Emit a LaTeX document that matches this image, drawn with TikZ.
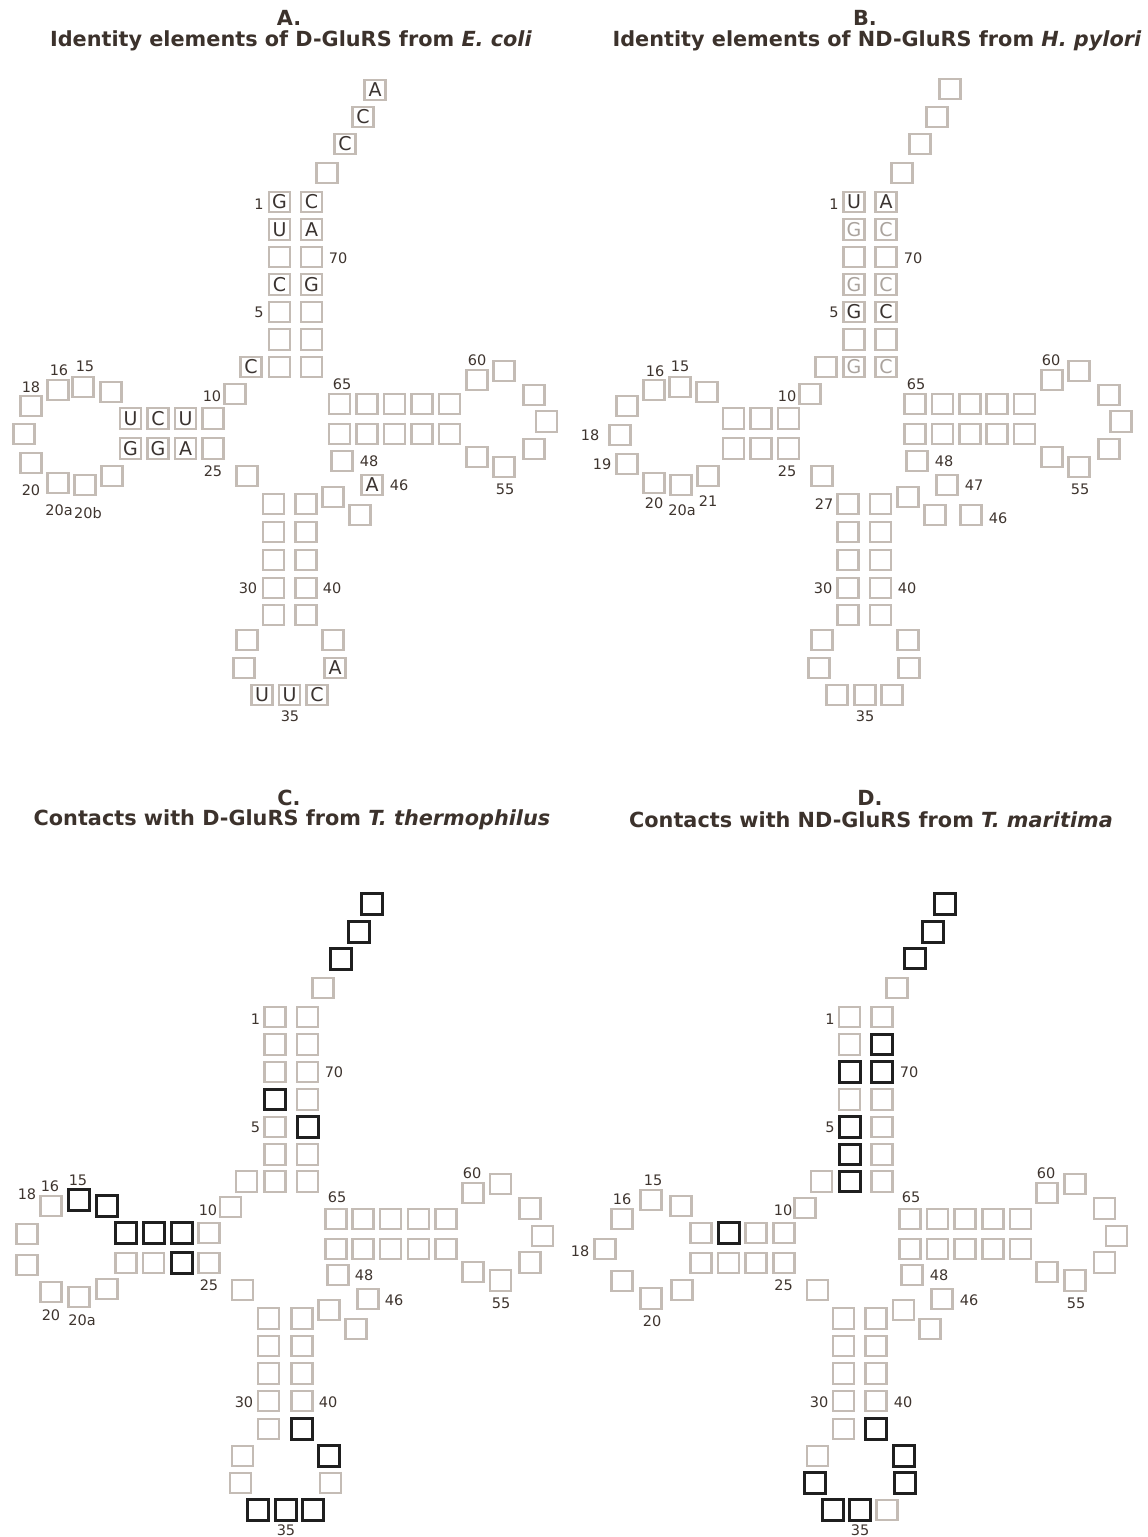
\documentclass[tikz,border=0pt]{standalone}
\usepackage{fontspec}
\setmainfont{DejaVu Sans}
\newfontfamily\tfont{DejaVu Sans}
\definecolor{boxgray}{RGB}{196,188,181}
\definecolor{letdark}{RGB}{58,51,48}
\definecolor{letlight}{RGB}{170,163,157}
\definecolor{labcol}{RGB}{62,52,46}
\definecolor{titlecol}{RGB}{60,50,44}
\tikzset{
  gb/.style={draw=boxgray, line width=2.2pt, minimum width=21pt, minimum height=20.5pt, inner sep=0pt,
    font=\fontsize{19}{19}\selectfont, text=letdark},
  kb/.style={gb, draw=black!88, line width=3pt},
  lg/.style={text=letlight},
  lab/.style={font=\fontsize{14.5}{14.5}\selectfont, text=labcol, inner sep=0pt},
  ttl/.style={font=\tfont\bfseries\fontsize{20.8}{20.8}\selectfont, text=titlecol, inner sep=0pt}
}
\begin{document}
\begin{tikzpicture}[x=1pt,y=-1pt]
\useasboundingbox (0,0) rectangle (1148,1537);

% ---------------- titles ----------------
\node[ttl] (tA1) at (289,18) {A.};
\node[ttl] (tA2) at (291,41) {Identity elements of D-GluRS from \textit{E. coli}};
\node[ttl] (tB1) at (865,18) {B.};
\node[ttl] (tB2) at (877,41) {Identity elements of ND-GluRS from \textit{H. pylori}};
\node[ttl] (tC1) at (289,798) {C.};
\node[ttl] (tC2) at (292,820) {Contacts with D-GluRS from \textit{T. thermophilus}};
\node[ttl] (tD1) at (870,798) {D.};
\node[ttl] (tD2) at (871,820) {Contacts with ND-GluRS from \textit{T. maritima}};

% ================= Panel A =================
\foreach \x/\y [count=\i] in {327/173,
  279.5/257,279.5/312,279.5/339.5,279.5/367,311.5/257,311.5/312,311.5/339.5,311.5/367,
  235/394,213/418.5,213/448.5,247/476,
  111/392,83/387,58/390,31/406,24/434,31/463,58/483,85/485,112/476,
  247/640,244/668,333/640,
  333/497,360/515,342/461,
  477/380,504/371,534/395,546.5/421.5,534/449,504/467,477/457}
  \node[gb] (A-g\i) at (\x,\y) {};
\foreach \x [count=\i] in {273.5,306}
  \foreach \y [count=\j] in {504,532,560,588,615}
    \node[gb] (A-ac\i-\j) at (\x,\y) {};
\foreach \x [count=\i] in {339.5,367,394.5,422,449.5}
  \foreach \y [count=\j] in {404,434}
    \node[gb] (A-t\i-\j) at (\x,\y) {};
\foreach \x/\y/\t [count=\i] in {375/90/A,363/117/C,345/144/C,
  279.5/202/G,279.5/229.5/U,279.5/284.5/C,311.5/202/C,311.5/229.5/A,311.5/284.5/G,
  251/367/C,130.5/418.5/U,158/418.5/C,185.5/418.5/U,130.5/448.5/G,158/448.5/G,185.5/448.5/A,
  262/695/U,289.5/695/U,317/695/C,335/668/A,372/485/A}
  \node[gb] (A-l\i) at (\x,\y) {\t};
\foreach \x/\y/\t [count=\i] in {259/204/1,338/258/70,259/312/5,212/396/10,213/471/25,
  59/370/16,85/366/15,31/387/18,31/490/20,59/510/20a,88/513/20b,
  248/588/30,332/588/40,290/716/35,369/461/48,399/485/46,342/384/65,477/360/60,505/489/55}
  \node[lab] (A-n\i) at (\x,\y) {\t};

% ================= Panel B =================
\foreach \x/\y [count=\i] in {950/89,937/117,920/144,902/173,
  854/257,854/339.5,886/257,886/339.5,
  826/367,810/394,
  733.5/418.5,761/418.5,788.5/418.5,733.5/448.5,761/448.5,788.5/448.5,
  822/476,
  707/392,680/387,654/390,627/406,620/435,627/464,654/483,681/485,708/476,
  822/640,819/668,837/695,865/695,892/695,909/668,908/640,
  908/497,935/515,971/515,947/485,917/461,
  1052/380,1079/371,1109/395,1121/421.5,1109/449,1079/467,1052/457}
  \node[gb] (B-g\i) at (\x,\y) {};
\foreach \x [count=\i] in {848,880.5}
  \foreach \y [count=\j] in {504,532,560,588,615}
    \node[gb] (B-ac\i-\j) at (\x,\y) {};
\foreach \x [count=\i] in {915,942.5,970,997,1024.5}
  \foreach \y [count=\j] in {404,434}
    \node[gb] (B-t\i-\j) at (\x,\y) {};
\foreach \x/\y/\t [count=\i] in {854/202/U,886/202/A,854/312/G,886/312/C}
  \node[gb] (B-l\i) at (\x,\y) {\t};
\foreach \x/\y/\t [count=\i] in {854/229.5/G,854/284.5/G,854/367/G,886/229.5/C,886/284.5/C,886/367/C}
  \node[gb,lg] (B-m\i) at (\x,\y) {\t};
\foreach \x/\y/\t [count=\i] in {834/204/1,834/312/5,913/258/70,787/396/10,787/471/25,824/504/27,
  655/371/16,680/366/15,590/435/18,602/464/19,654/503/20,682/510/20a,708/501/21,
  823/588/30,907/588/40,865/716/35,944/461/48,974/485/47,998/518/46,916/384/65,1051/360/60,1080/489/55}
  \node[lab] (B-n\i) at (\x,\y) {\t};

% ================= Panel C =================
\foreach \x/\y [count=\i] in {323/988,
  275/1017,275/1044.5,275/1072,275/1127,275/1154.5,275/1181.5,
  307.5/1017,307.5/1044.5,307.5/1072,307.5/1099.5,307.5/1154.5,307.5/1181.5,
  246.5/1181.5,230.5/1207,
  209/1233,126/1263,153.5/1263,209/1263,
  242.5/1290,
  51/1206,27/1234,27/1265,51/1292,79/1297,107/1289,
  268.5/1318.5,268.5/1346,268.5/1373.5,268.5/1401,268.5/1429,
  302/1318.5,302/1346,302/1373.5,302/1401,
  242.5/1456,240.5/1483,330.5/1483,
  329/1310,356/1329,368/1299,338/1275,
  473/1193,500.5/1184,530/1208.5,542.5/1236,530/1262.5,500.5/1280.5,473/1272}
  \node[gb] (C-g\i) at (\x,\y) {};
\foreach \x [count=\i] in {336,363,390.5,418.5,446}
  \foreach \y [count=\j] in {1219,1249}
    \node[gb] (C-t\i-\j) at (\x,\y) {};
\foreach \x/\y [count=\i] in {371.5/904,359/932,341/959,275/1099.5,307.5/1127,
  126/1233,153.5/1233,181.5/1233,181.5/1263,107/1206,79/1200,
  302/1429,258/1510,285.5/1510,313/1510,329/1456}
  \node[kb] (C-k\i) at (\x,\y) {};
\foreach \x/\y/\t [count=\i] in {255.5/1019.5/1,334/1072/70,255.5/1127/5,208/1210/10,209/1285/25,
  78/1180/15,50/1186/16,27/1194/18,51/1315/20,82/1320/20a,
  244/1402/30,328/1402/40,286/1530/35,364/1275/48,394/1300/46,337/1197/65,472/1173/60,501/1303/55}
  \node[lab] (C-n\i) at (\x,\y) {\t};

% ================= Panel D =================
\foreach \x/\y [count=\i] in {897/988,
  849.5/1017,849.5/1044.5,849.5/1099.5,
  882/1017,882/1099.5,882/1127,882/1154.5,882/1181.5,
  821.5/1181.5,805/1208,
  701/1233,756/1233,784/1233,701/1263,728.5/1263,756/1263,784/1263,
  817.5/1290,
  681/1206,651/1200,622/1219,605/1249,622/1281,651/1298.5,682/1290,
  843.5/1318.5,843.5/1346,843.5/1373.5,843.5/1401,843.5/1429,
  876/1318.5,876/1346,876/1373.5,876/1401,
  817.5/1456,887/1510,
  903.5/1310,930/1329,942/1299,912/1275,
  1047/1193,1075/1184,1104.5/1208.5,1116.5/1236,1104.5/1262.5,1075/1280.5,1047/1272}
  \node[gb] (D-g\i) at (\x,\y) {};
\foreach \x [count=\i] in {910,937.5,965,993,1020.5}
  \foreach \y [count=\j] in {1219,1249}
    \node[gb] (D-t\i-\j) at (\x,\y) {};
\foreach \x/\y [count=\i] in {945/904,933/932,914.5/958.5,
  849.5/1072,849.5/1127,849.5/1154.5,849.5/1181.5,882/1044.5,882/1072,
  728.5/1233,876/1429,815/1483,833/1510,860/1510,904.5/1483,903.5/1456}
  \node[kb] (D-k\i) at (\x,\y) {};
\foreach \x/\y/\t [count=\i] in {830/1019.5/1,909/1072.5/70,830/1127/5,783/1210/10,783.5/1285/25,
  653/1180/15,622/1199/16,580/1251/18,652/1321/20,
  819/1402/30,903/1402/40,860/1530/35,939/1275/48,969/1300/46,911/1197/65,1046/1173/60,1076/1303/55}
  \node[lab] (D-n\i) at (\x,\y) {\t};
\end{tikzpicture}
\end{document}
